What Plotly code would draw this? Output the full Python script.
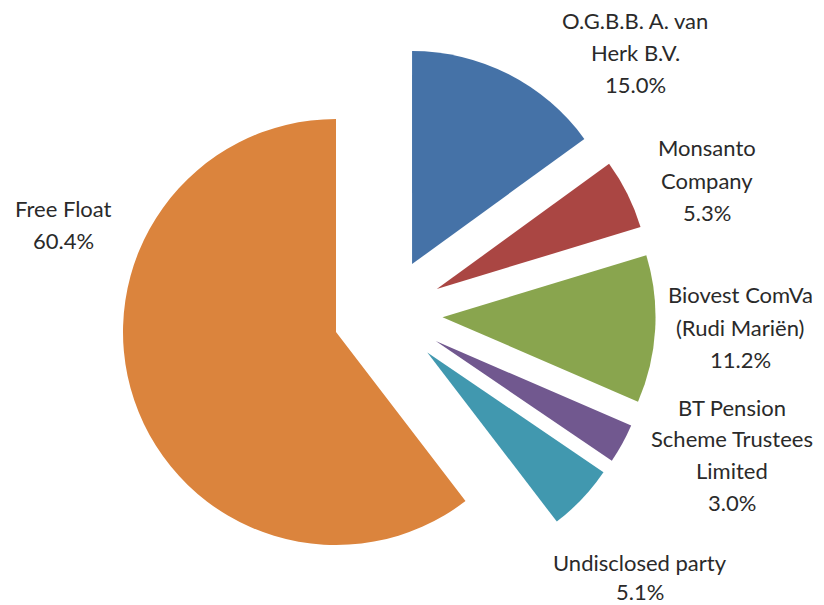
import plotly.graph_objects as go

# Data
owners = ["O.G.B.B. A. van Herk B.V.", "Monsanto Company", "Biovest ComVa (Rudi Mariën)",
          "BT Pension Scheme Trustees Limited", "Undisclosed party", "Free Float"]
shares = [15.0, 5.3, 11.2, 3.0, 5.1, 60.4]
label_lines = [["O.G.B.B. A. van", "Herk B.V.", "15.0%"],
               ["Monsanto", "Company", "5.3%"],
               ["Biovest ComVa", "(Rudi Mariën)", "11.2%"],
               ["BT Pension", "Scheme Trustees", "Limited", "3.0%"],
               ["Undisclosed party", "5.1%"],
               ["Free Float", "60.4%"]]

colors = ["#4572A7", "#AA4643", "#89A54E", "#71588F", "#4198AF", "#DB843D"]
clear = "rgba(0,0,0,0)"

W, H = 824, 605
R = 213.0          # pie radius in px
PULL = 0.263       # individual explosion
cx1, cy1 = 336.0, 332.0        # centre of the main pie
cx2, cy2 = 386.6, 314.0        # centre of the exploded group


def dom(cx, cy, half):
    return dict(x=[(cx - half) / W, (cx + half) / W],
                y=[1 - (cy + half) / H, 1 - (cy - half) / H])


fig = go.Figure()
# Free Float (not exploded)
fig.add_trace(go.Pie(
    labels=owners, values=shares, sort=False, direction="clockwise", rotation=0,
    marker=dict(colors=[clear] * 5 + [colors[5]], line=dict(width=0)),
    textinfo="none", hoverinfo="label+percent", showlegend=False,
    domain=dom(cx1, cy1, R)))
# Exploded shareholders
fig.add_trace(go.Pie(
    labels=owners, values=shares, sort=False, direction="clockwise", rotation=0,
    pull=[PULL] * 5 + [0],
    marker=dict(colors=colors[:5] + [clear], line=dict(width=0)),
    textinfo="none", hoverinfo="label+percent", showlegend=False,
    domain=dom(cx2, cy2, R * (1 + PULL))))

# label block: centre x, first line y, line spacing (px)
label_pos = [(635, 21, 31.5), (707, 148, 32), (740, 295, 32), (732, 407, 31.7),
             (640, 562, 29), (64, 208, 32)]
for lines, (px, py, sp) in zip(label_lines, label_pos):
    for i, ln in enumerate(lines):
        y = py + i * sp
        fig.add_annotation(text=ln, x=px / W, y=1 - y / H, xref="paper", yref="paper",
                           xanchor="center", yanchor="middle", showarrow=False,
                           font=dict(family="Lato", size=22, color="#2a2a2a"))

fig.update_layout(width=W, height=H, margin=dict(l=0, r=0, t=0, b=0),
                  paper_bgcolor="white", plot_bgcolor="white")
fig.write_html("out.html", config={"displayModeBar": False},
               post_script="document.body.style.margin='0';document.body.style.overflow='hidden';")
